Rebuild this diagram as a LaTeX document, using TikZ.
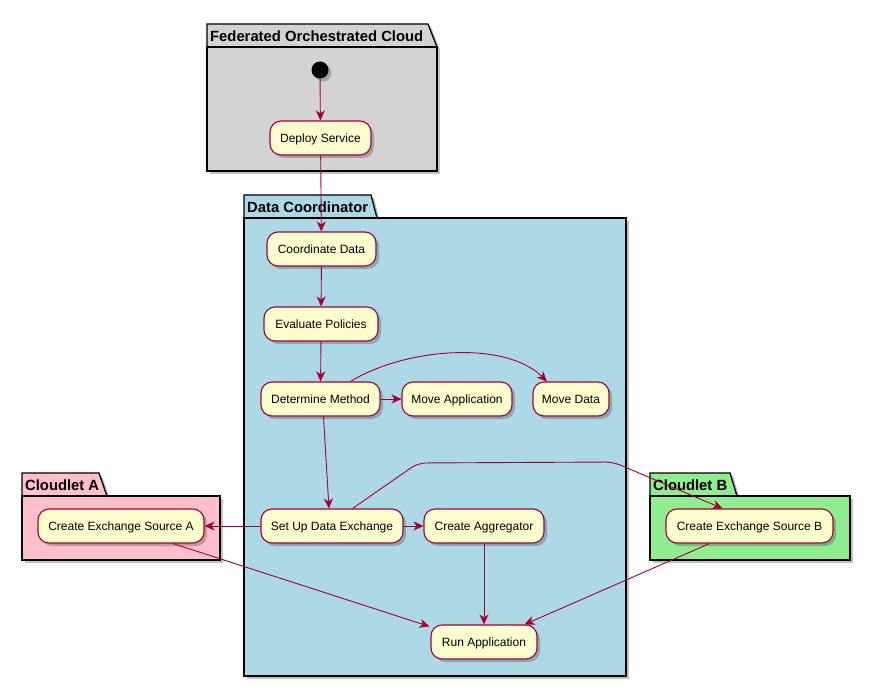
\documentclass[tikz,border=0pt]{standalone}
\usepackage{fontspec}
\setmainfont{Liberation Sans}
\usetikzlibrary{arrows.meta,shadows}
\definecolor{nodefill}{HTML}{FEFECE}
\definecolor{nodeline}{HTML}{A80036}
\definecolor{pkggray}{HTML}{D3D3D3}
\definecolor{pkgblue}{HTML}{ADD8E6}
\definecolor{pkgpink}{HTML}{FFC0CB}
\definecolor{pkggreen}{HTML}{90EE90}
\begin{document}
\begin{tikzpicture}[x=1pt,y=-1pt,
  shd/.style={drop shadow={shadow xshift=3pt,shadow yshift=-3pt,opacity=0.35,fill=black!70}},
  act/.style={draw=nodeline, fill=nodefill, line width=1.1pt, rounded corners=11pt,
    minimum height=34pt, inner sep=0pt, text height=8.6pt, text depth=0pt,
    font=\fontsize{12}{14}\selectfont, shd},
  flow/.style={draw=nodeline, line width=0.9pt, -{Stealth[length=10pt,width=9pt,inset=3pt]}},
  pkg/.style={draw=black, line width=1.3pt, shd},
  ptitle/.style={font=\bfseries\fontsize{14.8}{16}\selectfont, anchor=west, inner sep=0pt}
]
\useasboundingbox (0,0) rectangle (871,687);

% packages
\path[pkg, fill=pkggray] (207,24) -- (428,24) -- (437,47) -- (207,47) -- cycle;
\path[pkg, fill=pkggray] (207,47) rectangle (437,171);
\node[ptitle] (t1) at (210,36) {Federated Orchestrated Cloud};

\path[pkg, fill=pkgblue] (244,195) -- (371,195) -- (377,218) -- (244,218) -- cycle;
\path[pkg, fill=pkgblue] (244,218) rectangle (626,676);
\node[ptitle] (t2) at (247,207) {Data Coordinator};

\path[pkg, fill=pkgpink] (22,473) -- (99,473) -- (107,496) -- (22,496) -- cycle;
\path[pkg, fill=pkgpink] (22,496) rectangle (220,560);
\node[ptitle] (t3) at (25,485) {Cloudlet A};

\path[pkg, fill=pkggreen] (650,473) -- (730,473) -- (737,496) -- (650,496) -- cycle;
\path[pkg, fill=pkggreen] (650,496) rectangle (850,560);
\node[ptitle] (t4) at (653,485) {Cloudlet B};

% nodes
\node[circle, fill=black, minimum size=17pt, inner sep=0pt, shd] (start) at (320,70) {};
\node[act, minimum width=101pt] (deploy) at (320.5,138) {Deploy Service};
\node[act, minimum width=109pt] (coord) at (321.5,249) {Coordinate Data};
\node[act, minimum width=114pt] (eval) at (321,324) {Evaluate Policies};
\node[act, minimum width=119pt] (determ) at (320.5,399) {Determine Method};
\node[act, minimum width=110pt] (moveapp) at (457,399) {Move Application};
\node[act, minimum width=76pt] (movedata) at (571,399) {Move Data};
\node[act, minimum width=142pt] (setup) at (332,526) {Set Up Data Exchange};
\node[act, minimum width=120pt] (agg) at (484,526) {Create Aggregator};
\node[act, minimum width=166pt] (exa) at (121,526) {Create Exchange Source A};
\node[act, minimum width=167pt] (exb) at (749.5,526) {Create Exchange Source B};
\node[act, minimum width=106pt] (run) at (484,642) {Run Application};

\coordinate (b1) at (418,463);
\coordinate (b2) at (613,462);

% edges
\draw[flow] (start) -- (deploy);
\draw[flow] (deploy) -- (coord);
\draw[flow] (coord) -- (eval);
\draw[flow] (eval) -- (determ);
\draw[flow] (determ) -- (moveapp);
\draw[flow] ([xshift=-30pt]determ.north east) .. controls (405,348) and (505,340) .. ([xshift=-24pt]movedata.north);
\draw[flow] ([xshift=3pt]determ.south) -- ([xshift=-3pt]setup.north);
\draw[flow] (setup) -- (agg);
\draw[flow] (setup) -- (exa);
\draw[flow, rounded corners=8pt] ([xshift=-51pt]setup.north east) -- (b1) -- (b2) -- ([xshift=-27pt]exb.north);
\draw[flow] ([xshift=52pt]exa.south) -- ([xshift=-1pt,yshift=-2pt]run.north west);
\draw[flow] (agg) -- (run);
\draw[flow] ([xshift=-40pt]exb.south) -- ([xshift=-13pt]run.north east);
\end{tikzpicture}
\end{document}
